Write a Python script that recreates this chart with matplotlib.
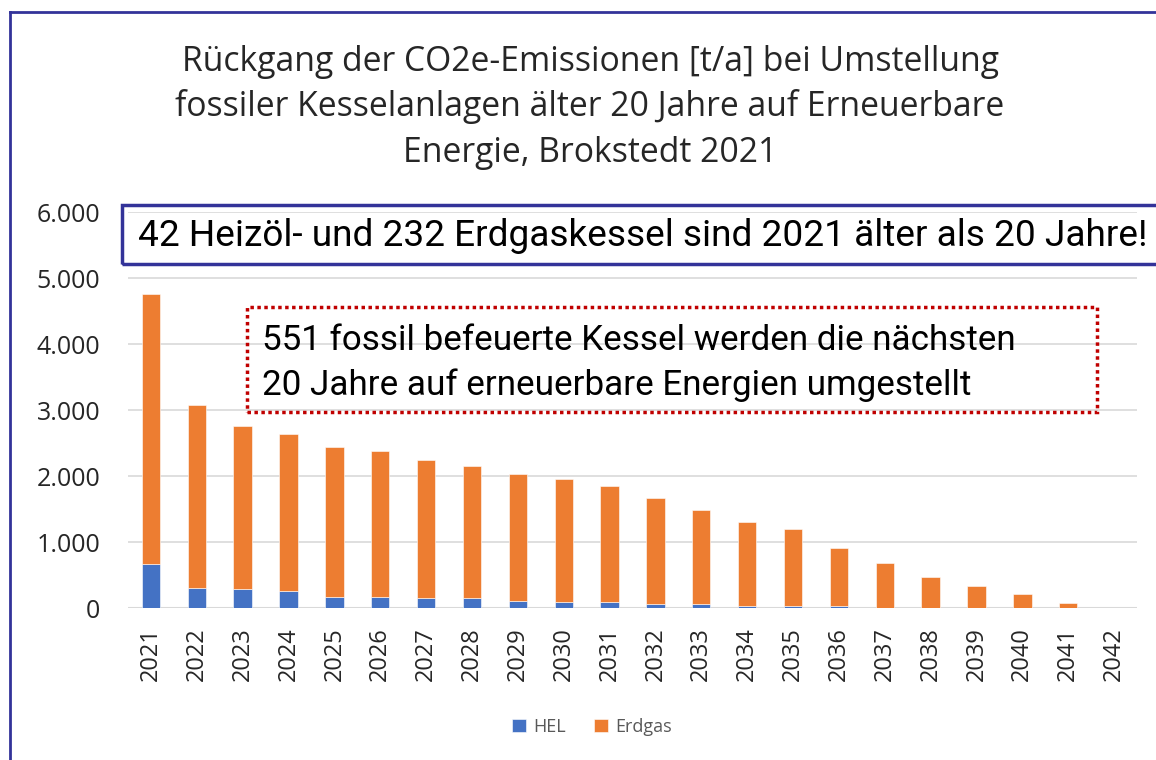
import matplotlib
matplotlib.use("Agg")
import matplotlib.pyplot as plt
import numpy as np
from matplotlib.patches import Rectangle
from matplotlib.lines import Line2D

# Daten
jahre = [str(j) for j in range(2021, 2043)]
hel = [660, 310, 295, 254, 173, 173, 152, 152, 112, 91, 91,
       56, 56, 36, 36, 36, 0, 0, 0, 0, 0, 0]
erdgas = [4100, 2770, 2465, 2386, 2267, 2207, 2083, 2003, 1923, 1864, 1764,
          1614, 1429, 1269, 1154, 879, 675, 472, 330, 215, 76, 0]
y_ticks = [0, 1000, 2000, 3000, 4000, 5000, 6000]

titel = ["Rückgang der CO2e-Emissionen [t/a] bei Umstellung",
         "fossiler Kesselanlagen älter 20 Jahre auf Erneuerbare",
         "Energie, Brokstedt 2021"]
hinweis_1 = "42 Heizöl- und 232 Erdgaskessel sind 2021 älter als 20 Jahre!"
hinweis_2 = ["551 fossil befeuerte Kessel werden die nächsten",
             "20 Jahre auf erneuerbare Energien umgestellt"]

BLAU = "#4472C4"
ORANGE = "#ED7D31"
NAVY = "#333399"
ROT = "#C00000"

W, H = 1156, 760


def fx(px):
    return px / W


def fy(py):
    return 1 - py / H


def auf_breite(fig, txt, ziel_px):
    """Schriftgröße so anpassen, dass der Text ungefähr ziel_px breit ist."""
    r = fig.canvas.get_renderer()
    b = txt.get_window_extent(renderer=r).width
    txt.set_fontsize(txt.get_fontsize() * ziel_px / b)


plt.rcParams["font.family"] = ["Open Sans", "DejaVu Sans"]

fig = plt.figure(figsize=(W / 100, H / 100), dpi=100)
fig.patch.set_facecolor("white")

ax = fig.add_axes([fx(128), fy(608), fx(1137 - 128), (608 - 212) / H])

x = np.arange(len(jahre))
ax.bar(x, hel, width=0.4, color=BLAU, edgecolor="white", linewidth=0.4, label="HEL", zorder=3)
ax.bar(x, erdgas, width=0.4, bottom=hel, color=ORANGE, edgecolor="white", linewidth=0.4,
       label="Erdgas", zorder=3)

ax.set_xlim(-0.5, len(jahre) - 0.5)
ax.set_ylim(0, 6000)
ax.set_yticks(y_ticks)
ax.set_yticklabels([f"{v:,.0f}".replace(",", ".") for v in y_ticks])
ax.set_xticks(x)
ax.set_xticklabels(jahre, rotation=90)
ax.tick_params(axis="y", length=0, pad=20, labelsize=18, labelcolor="#262626")
ax.tick_params(axis="x", length=0, pad=14, labelsize=17, labelcolor="#262626")
ax.grid(axis="y", color="#d9d9d9", linewidth=1.2, zorder=0)
for s in ax.spines.values():
    s.set_visible(False)
ax.axhline(0, color="#d9d9d9", linewidth=1.5, zorder=1)

ax.legend(loc="center", bbox_to_anchor=(fx(592 - 128) / fx(1009), -(727 - 608) / 396),
          ncol=2, frameon=False, fontsize=13, labelcolor="#595959",
          handlelength=0.75, handleheight=0.75, handletextpad=0.4, columnspacing=1.6)

# Titel
tt = []
for zeile, yp in zip(titel, [62, 107, 153]):
    tt.append(fig.text(fx(590), fy(yp), zeile, ha="center", va="center",
                       fontsize=23, color="#262626"))
auf_breite(fig, tt[0], 820)
for t in tt[1:]:
    t.set_fontsize(tt[0].get_fontsize())

# Hinweisboxen
fig.patches.append(Rectangle((fx(122), fy(264)), fx(1170 - 122), 59 / H,
                             transform=fig.transFigure, fill=False,
                             edgecolor=NAVY, linewidth=2.5, clip_on=False))
t1 = fig.text(fx(138), fy(236), hinweis_1, ha="left", va="center", fontsize=24,
              family=["Roboto", "DejaVu Sans"], color="black")
auf_breite(fig, t1, 1007)

fig.patches.append(Rectangle((fx(247), fy(412)), fx(1097 - 247), 105 / H,
                             transform=fig.transFigure, fill=False,
                             edgecolor=ROT, linewidth=2.5, linestyle=(0, (1, 1)),
                             clip_on=False))
t2 = []
for zeile, yp in zip(hinweis_2, [341, 385]):
    t2.append(fig.text(fx(262), fy(yp), zeile, ha="left", va="center", fontsize=24,
                       family=["Roboto", "DejaVu Sans"], color="black"))
auf_breite(fig, t2[0], 753)
t2[1].set_fontsize(t2[0].get_fontsize())

# Rahmen
fig.add_artist(Line2D([fx(10), fx(10)], [fy(12), 0], transform=fig.transFigure,
                      color=NAVY, linewidth=2))
fig.add_artist(Line2D([fx(10), 1], [fy(12), fy(12)], transform=fig.transFigure,
                      color=NAVY, linewidth=2))

fig.savefig("out.png", dpi=100)
plt.close(fig)
